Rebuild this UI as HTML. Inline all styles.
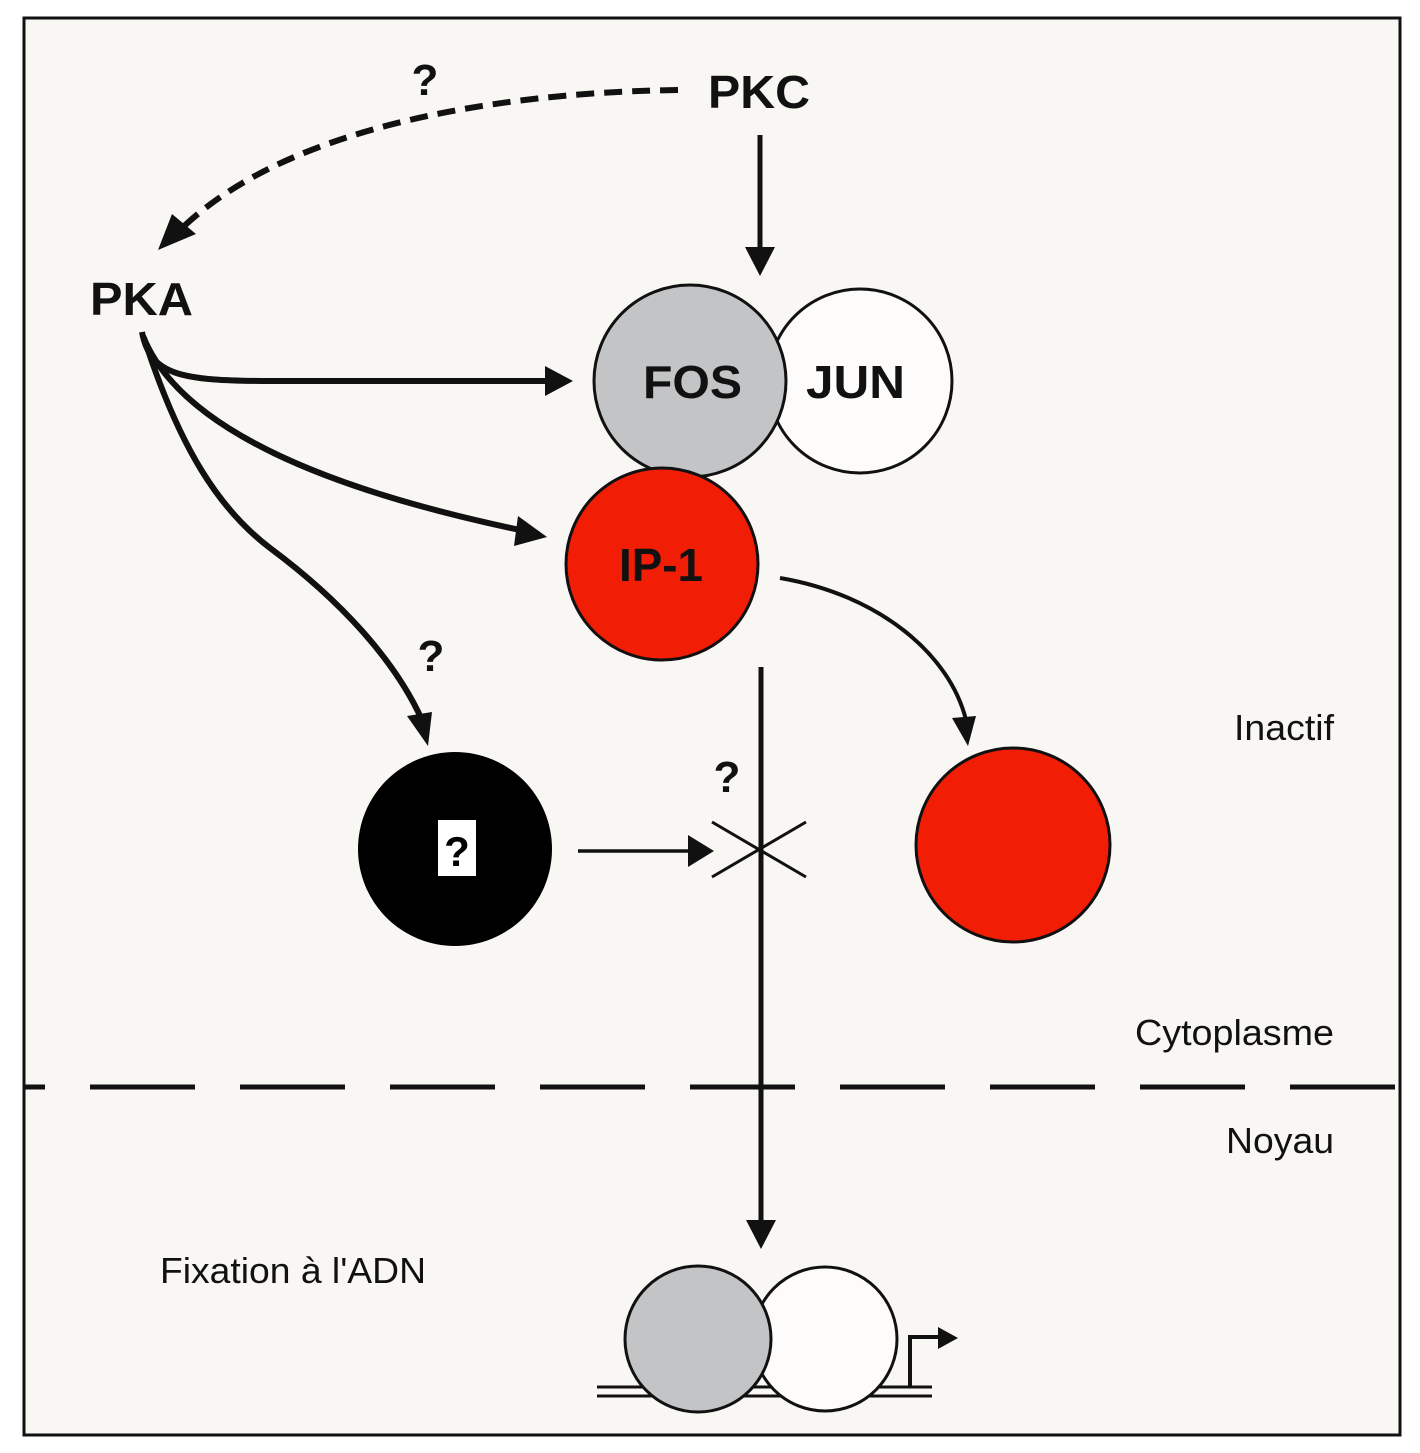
<!DOCTYPE html>
<html><head><meta charset="utf-8"><style>
html,body{margin:0;padding:0;background:#fff;}
svg{display:block;}
text{font-family:"Liberation Sans",Arial,sans-serif;}
</style></head><body>
<svg width="1420" height="1453" viewBox="0 0 1420 1453" xmlns="http://www.w3.org/2000/svg">
<defs>
<clipPath id="fr"><rect x="24" y="18" width="1376" height="1417"/></clipPath>
</defs>
<rect x="24" y="18" width="1376" height="1417" fill="#f9f7f3" stroke="#111" stroke-width="3"/>

<path d="M678,90 C520,92 290,120 178,232" fill="none" stroke="#111" stroke-width="6" stroke-dasharray="18 10"/>
<polygon points="158,250 172,214 196,234" fill="#111"/>

<line x1="760" y1="135" x2="760" y2="250" stroke="#111" stroke-width="5"/>
<polygon points="745,247 775,247 760,276" fill="#111"/>

<path d="M142,332 C150,375 180,381 270,381 L548,381" fill="none" stroke="#111" stroke-width="6"/>
<polygon points="545,366 573,381 545,396" fill="#111"/>
<path d="M143,336 C180,430 330,490 520,530" fill="none" stroke="#111" stroke-width="6"/>
<polygon points="518,516 547,537 514,546" fill="#111"/>
<path d="M144,338 C180,450 220,510 270,548 C340,600 395,660 422,720" fill="none" stroke="#111" stroke-width="6"/>
<polygon points="407,716 432,712 428,746" fill="#111"/>

<path d="M780,578 C880,595 950,655 966,720" fill="none" stroke="#111" stroke-width="4"/>
<polygon points="952,718 976,716 968,746" fill="#111"/>

<line x1="761" y1="667" x2="761" y2="1222" stroke="#111" stroke-width="5"/>
<polygon points="746,1220 776,1220 761,1249" fill="#111"/>

<line x1="578" y1="851" x2="690" y2="851" stroke="#111" stroke-width="3.5"/>
<polygon points="688,835 714,851 688,867" fill="#111"/>
<line x1="712" y1="822" x2="806" y2="877" stroke="#111" stroke-width="3"/>
<line x1="712" y1="877" x2="806" y2="822" stroke="#111" stroke-width="3"/>

<circle cx="860" cy="381" r="92" fill="#fdfcfa" stroke="#111" stroke-width="3"/>
<circle cx="690" cy="381" r="96" fill="#c2c4c6" stroke="#111" stroke-width="3"/>
<circle cx="662" cy="564" r="96" fill="#f21d05" stroke="#111" stroke-width="3"/>
<circle cx="1013" cy="845" r="97" fill="#f21d05" stroke="#111" stroke-width="3"/>
<circle cx="455" cy="849" r="97" fill="#000"/>
<rect x="438" y="820" width="38" height="56" fill="#fff"/>
<text x="457" y="866" font-size="42" font-weight="bold" text-anchor="middle" fill="#000">?</text>

<g clip-path="url(#fr)">
<line x1="-60" y1="1087" x2="1400" y2="1087" stroke="#111" stroke-width="5" stroke-dasharray="105 45"/>
</g>

<line x1="597" y1="1387" x2="932" y2="1387" stroke="#111" stroke-width="3"/>
<line x1="597" y1="1396" x2="932" y2="1396" stroke="#111" stroke-width="3"/>
<polyline points="910,1387 910,1337 940,1337" fill="none" stroke="#111" stroke-width="4"/>
<polygon points="938,1327 958,1338 938,1349" fill="#111"/>
<circle cx="825" cy="1339" r="72" fill="#fdfcfa" stroke="#111" stroke-width="3"/>
<circle cx="698" cy="1339" r="73" fill="#c2c4c6" stroke="#111" stroke-width="3"/>

<text x="708" y="108" font-size="46" font-weight="bold" fill="#111" textLength="102" lengthAdjust="spacingAndGlyphs">PKC</text>
<text x="90" y="315" font-size="46" font-weight="bold" fill="#111" textLength="103" lengthAdjust="spacingAndGlyphs">PKA</text>
<text x="643" y="398" font-size="46" font-weight="bold" fill="#111" textLength="99" lengthAdjust="spacingAndGlyphs">FOS</text>
<text x="806" y="398" font-size="46" font-weight="bold" fill="#111" textLength="99" lengthAdjust="spacingAndGlyphs">JUN</text>
<text x="619" y="581" font-size="46" font-weight="bold" fill="#111" textLength="84" lengthAdjust="spacingAndGlyphs">IP-1</text>
<text x="425" y="95" font-size="44" font-weight="bold" text-anchor="middle" fill="#111">?</text>
<text x="431" y="671" font-size="44" font-weight="bold" text-anchor="middle" fill="#111">?</text>
<text x="727" y="792" font-size="44" font-weight="bold" text-anchor="middle" fill="#111">?</text>
<text x="1234" y="740" font-size="36" fill="#111" textLength="100" lengthAdjust="spacingAndGlyphs">Inactif</text>
<text x="1135" y="1045" font-size="36" fill="#111" textLength="199" lengthAdjust="spacingAndGlyphs">Cytoplasme</text>
<text x="1226" y="1153" font-size="36" fill="#111" textLength="108" lengthAdjust="spacingAndGlyphs">Noyau</text>
<text x="160" y="1283" font-size="36" fill="#111" textLength="266" lengthAdjust="spacingAndGlyphs">Fixation à l'ADN</text>
</svg>
</body></html>
